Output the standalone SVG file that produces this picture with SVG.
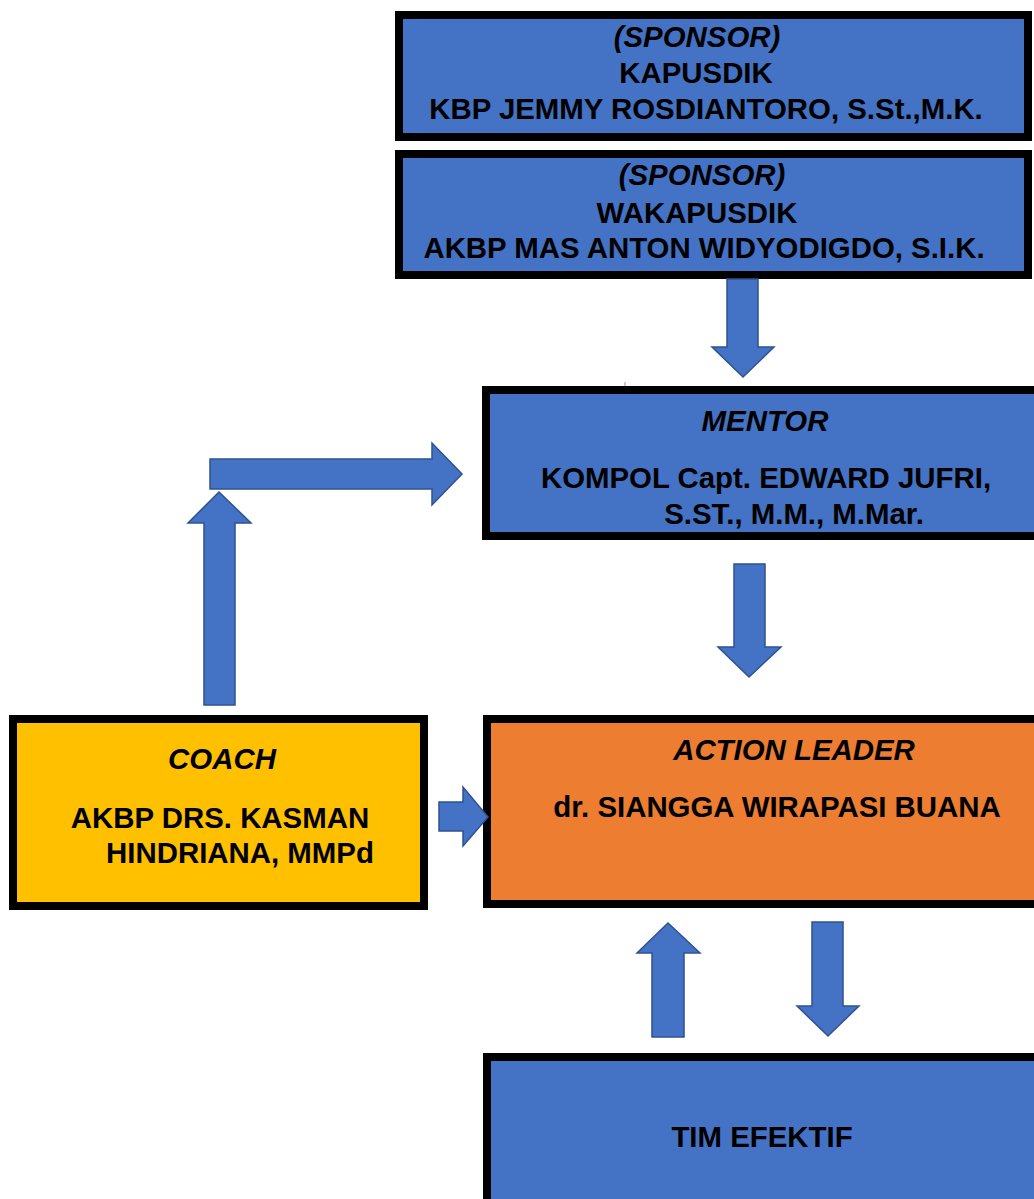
<svg xmlns="http://www.w3.org/2000/svg" width="1034" height="1199" viewBox="0 0 1034 1199">
<style>
.box{stroke:#000;stroke-width:8}
.blue{fill:#4472C4}
.orange{fill:#ED7D31}
.yellow{fill:#FFC000}
.arr{fill:#4472C4;stroke:#2F528F;stroke-width:1.5}
text{font-family:"Liberation Sans",Arial,sans-serif;font-weight:bold;font-size:29.4px;fill:#000;text-anchor:middle}
.it{font-style:italic}
</style>
<rect width="1034" height="1199" fill="#fff"/>
<g id="sponsor1">
<rect class="box blue" x="399" y="15" width="629" height="122"/>
<text class="it" x="697" y="47">(SPONSOR)</text>
<text x="696" y="83">KAPUSDIK</text>
<text x="706" y="119">KBP JEMMY ROSDIANTORO, S.St.,M.K.</text>
</g>
<g id="sponsor2">
<rect class="box blue" x="399" y="154" width="629" height="121"/>
<text class="it" x="702" y="185">(SPONSOR)</text>
<text x="697" y="223">WAKAPUSDIK</text>
<text x="704" y="258">AKBP MAS ANTON WIDYODIGDO, S.I.K.</text>
</g>
<g id="mentor">
<rect class="box blue" x="486" y="390" width="560" height="146"/>
<text class="it" x="765" y="431">MENTOR</text>
<text x="766" y="488">KOMPOL Capt. EDWARD JUFRI,</text>
<text x="794" y="524">S.ST., M.M., M.Mar.</text>
</g>
<g id="coach">
<rect class="box yellow" x="13" y="719" width="411" height="187"/>
<text class="it" x="222" y="769">COACH</text>
<text x="220" y="828">AKBP DRS. KASMAN</text>
<text x="240" y="863">HINDRIANA, MMPd</text>
</g>
<g id="action-leader">
<rect class="box orange" x="487" y="719" width="560" height="185"/>
<text class="it" x="794" y="760">ACTION LEADER</text>
<text x="777" y="817">dr. SIANGGA WIRAPASI BUANA</text>
</g>
<g id="tim-efektif">
<rect class="box blue" x="487" y="1057" width="560" height="200"/>
<text x="762" y="1147">TIM EFEKTIF</text>
</g>
<g id="connectors">
<polygon class="arr" points="727,279 758,279 758,347 774,347 743,377 712,347 727,347"/>
<polygon class="arr" points="734,564 765,564 765,647 781,647 749,677 718,647 734,647"/>
<polygon class="arr" points="204,705 235,705 235,523 251,523 219,492 188,523 204,523"/>
<polygon class="arr" points="210,459 432,459 432,443 462,474 432,505 432,489 210,489"/>
<polygon class="arr" points="439,802 463,802 463,787 488,817 463,846 463,831 439,831"/>
<polygon class="arr" points="652,1037 684,1037 684,953 700,953 668,923 637,953 652,953"/>
<polygon class="arr" points="812,922 843,922 843,1006 859,1006 828,1036 797,1006 812,1006"/>
<line x1="625" y1="382" x2="625" y2="386" stroke="#8896b0" stroke-width="1"/>
</g>
</svg>
